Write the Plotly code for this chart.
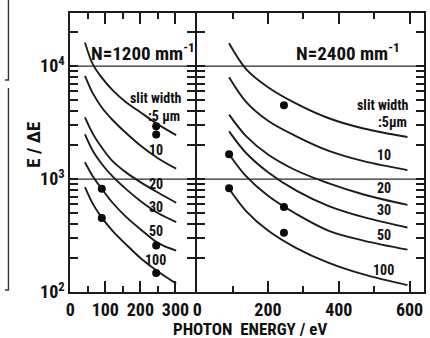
import plotly.graph_objects as go

# ---- N = 1200 mm^-1 grating: calculated E/dE versus photon energy (eV) ----
g1200_energy = [42, 65, 90, 120, 160, 200, 250, 302]
g1200_w5 = [16200, 10300, 7900, 6150, 4750, 3900, 3050, 2450]
g1200_w10 = [8200, 5700, 4300, 3350, 2540, 1980, 1530, 1235]
g1200_w20 = [3510, 2500, 1900, 1450, 1140, 940, 760, 617]
g1200_w30 = [2480, 1760, 1360, 1060, 810, 640, 500, 416]
g1200_w50 = [1410, 1050, 820, 620, 460, 360, 272, 232]
g1200_w100 = [850, 600, 455, 350, 262, 200, 152, 119]
# measured points
g1200_meas_energy = [90, 90, 245, 245, 245, 245]
g1200_meas_value = [820, 452, 2930, 2480, 258, 147]

# ---- N = 2400 mm^-1 grating ----
g2400_energy = [90, 138, 200, 280, 370, 470, 594]
g2400_w5 = [15900, 9400, 6500, 4650, 3470, 2800, 2355]
g2400_w10 = [7950, 4820, 3280, 2390, 1785, 1440, 1200]
g2400_w20 = [3720, 2400, 1650, 1190, 920, 730, 590]
g2400_w30 = [2640, 1700, 1150, 790, 580, 460, 372]
g2400_w50 = [1660, 1060, 710, 490, 350, 285, 237]
g2400_w100 = [820, 521, 350, 245, 182, 143, 115]
g2400_meas_energy = [90, 90, 245, 245, 245]
g2400_meas_value = [1660, 830, 4510, 566, 335]

slit_names = ["5", "10", "20", "30", "50", "100"]
x1_ticks = [0, 100, 200, 300]
x1_minor = [50, 150, 250]
x2_ticks = [0, 200, 400, 600]
x2_minor = [100, 300, 500]
decades = [100, 1000, 10000]
decade_text = ["10<sup>2</sup>", "10<sup>3</sup>", "10<sup>4</sup>"]

INK = "#1c1c1c"
FONT = "Liberation Sans Narrow, Roboto Condensed, DejaVu Sans Condensed, Liberation Sans, sans-serif"

fig = go.Figure()

left_curves = [g1200_w5, g1200_w10, g1200_w20, g1200_w30, g1200_w50, g1200_w100]
right_curves = [g2400_w5, g2400_w10, g2400_w20, g2400_w30, g2400_w50, g2400_w100]

for name, ys in zip(slit_names, left_curves):
    fig.add_trace(go.Scatter(x=g1200_energy, y=ys, mode="lines", name=name,
                             line=dict(color=INK, width=1.9, shape="spline", smoothing=1.0),
                             xaxis="x", yaxis="y", showlegend=False, hoverinfo="skip"))
for name, ys in zip(slit_names, right_curves):
    fig.add_trace(go.Scatter(x=g2400_energy, y=ys, mode="lines", name=name,
                             line=dict(color=INK, width=1.9, shape="spline", smoothing=1.0),
                             xaxis="x2", yaxis="y2", showlegend=False, hoverinfo="skip"))

fig.add_trace(go.Scatter(x=g1200_meas_energy, y=g1200_meas_value, mode="markers",
                         marker=dict(color="#0a0a0a", size=8), xaxis="x", yaxis="y",
                         showlegend=False))
fig.add_trace(go.Scatter(x=g2400_meas_energy, y=g2400_meas_value, mode="markers",
                         marker=dict(color="#0a0a0a", size=8), xaxis="x2", yaxis="y2",
                         showlegend=False))

# minor tick positions 2..9 within each decade on the log axis
y_minor = [d * m for d in decades for m in range(2, 10) if d * m <= 30000]

tickfont = dict(family=FONT, size=18, color="#111", weight="bold")
common_x = dict(showline=True, linewidth=2, linecolor=INK, mirror="ticks",
                ticks="inside", ticklen=11, tickwidth=1.6, tickcolor=INK,
                showgrid=False, zeroline=False, tickfont=tickfont)
common_y = dict(type="log", range=[2, 4.47], showline=True, linewidth=2, linecolor=INK,
                mirror="ticks", ticks="inside", ticklen=8, tickwidth=1.6, tickcolor=INK,
                showgrid=False, zeroline=False, tickmode="array",
                tickvals=decades, ticktext=decade_text, tickfont=tickfont,
                minor=dict(tickmode="array", tickvals=y_minor, ticks="inside", ticklen=8,
                           tickwidth=1.6, tickcolor=INK, showgrid=False))

fig.update_layout(
    width=430, height=338,
    margin=dict(l=0, r=0, t=13, b=46),
    paper_bgcolor="white", plot_bgcolor="white",
    xaxis=dict(domain=[66 / 430, 192 / 430], range=[0, 355], tickmode="array",
               tickvals=x1_ticks, anchor="y",
               minor=dict(tickvals=x1_minor, ticks="inside", ticklen=6, tickwidth=1.6,
                          tickcolor=INK), **common_x),
    xaxis2=dict(domain=[194.5 / 430, 424 / 430], range=[0, 641], tickmode="array",
                tickvals=x2_ticks, anchor="y2",
                minor=dict(tickvals=x2_minor, ticks="inside", ticklen=6, tickwidth=1.6,
                           tickcolor=INK), **common_x),
    yaxis=dict(anchor="x", **common_y),
    yaxis2=dict(anchor="x2", matches="y", showticklabels=False,
                **{k: v for k, v in common_y.items() if k != "tickfont"}),
)

# decade gridlines across both panels
for d in decades[1:]:
    for xr, yr in (("x domain", "y"), ("x2 domain", "y2")):
        fig.add_shape(type="line", xref=xr, yref=yr, x0=0, x1=1, y0=d, y1=d,
                      line=dict(color="#2a2a2a", width=1.2), layer="below")

# edge of the neighbouring frame at far left
edge = dict(color="#333", width=1.4)
fig.add_shape(type="path", xref="paper", yref="paper",
              path=f"M 0,{(292-80)/279} L {3.5/430},{(292-80)/279} L {3.5/430},{(292+14)/279}",
              line=edge)
fig.add_shape(type="path", xref="paper", yref="paper",
              path=f"M {3.5/430},{(292-88)/279} L {3.5/430},{(292-290)/279} L 0,{(292-290)/279}",
              line=edge)

lab = dict(family=FONT, color="#111", weight="bold")

def note(text, x, y, xref, yref, size, xanchor="center", yanchor="middle", **kw):
    fig.add_annotation(text=text, x=x, y=y, xref=xref, yref=yref, showarrow=False,
                       xanchor=xanchor, yanchor=yanchor,
                       font=dict(size=size, **lab), **kw)

# panel titles (y in log10 units on log axes)
note("N=1200 mm<sup>-1</sup>", 206, 4, "x", "y", 19, yanchor="bottom", yshift=-1)
note("N=2400 mm<sup>-1</sup>", 426, 4, "x2", "y2", 19, yanchor="bottom", yshift=-1)

# slit-width labels
note("slit width", 324, 3.715, "x", "y", 14, xanchor="right")
note(":5 µm", 318, 3.56, "x", "y", 14, xanchor="right")
for t, ly in zip(slit_names[1:], [3.255, 2.957, 2.756, 2.537, 2.281]):
    note(t, 244, ly, "x", "y", 14)
note("slit width", 605, 3.655, "x2", "y2", 14, xanchor="right")
note(":5µm", 599, 3.505, "x2", "y2", 14, xanchor="right")
for t, ly in zip(slit_names[1:], [3.21, 2.92, 2.729, 2.503, 2.198]):
    note(t, 527, ly, "x2", "y2", 14)

# axis titles
note("PHOTON  ENERGY / eV", 248 / 430, (292 - 328.5) / 279, "paper", "paper", 17)
note("E / ΔE", 28 / 430, (292 - 145) / 279, "paper", "paper", 19, textangle=-90)

fig.write_html("out.html")
